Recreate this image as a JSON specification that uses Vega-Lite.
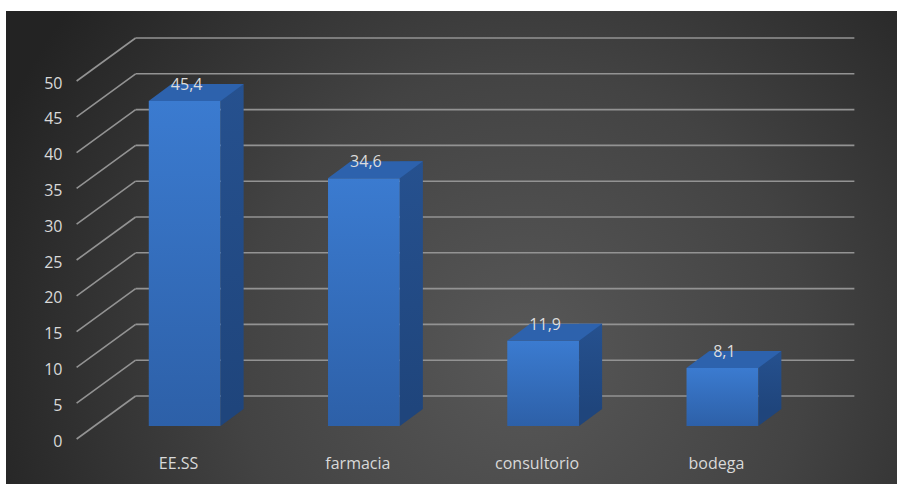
{
  "$schema": "https://vega.github.io/schema/vega-lite/v6.json",
  "width": 891,
  "height": 473,
  "autosize": {"type": "none"},
  "padding": {"left": 6, "top": 11, "right": 0, "bottom": 0},
  "background": "white",
  "datasets": {
    "bars": [
      {"cat": "EE.SS", "v": 45.4},
      {"cat": "farmacia", "v": 34.6},
      {"cat": "consultorio", "v": 11.9},
      {"cat": "bodega", "v": 8.1}
    ],
    "ticks": [
      {"t": 0}, {"t": 5}, {"t": 10}, {"t": 15}, {"t": 20}, {"t": 25},
      {"t": 30}, {"t": 35}, {"t": 40}, {"t": 45}, {"t": 50}
    ]
  },
  "layer": [
    {
      "data": {"name": "ticks"},
      "mark": {"type": "rule", "color": "#939393", "strokeWidth": 1.6, "xOffset": -49, "x2Offset": 132, "yOffset": -30},
      "encoding": {
        "x": {"datum": "EE.SS", "type": "nominal", "axis": {"title": null},
          "scale": {"domain": ["EE.SS", "farmacia", "consultorio", "bodega"], "range": [89, 806]}},
        "x2": {"datum": "bodega"},
        "y": {"field": "t", "type": "quantitative", "axis": {"title": null},
          "scale": {"domain": [0, 50], "range": [415, 57], "nice": false, "zero": true}}
      }
    },
    {
      "data": {"name": "ticks"},
      "mark": {"type": "rule", "color": "#939393", "strokeWidth": 1.6, "xOffset": -108, "x2Offset": -49, "yOffset": 13, "y2Offset": -30},
      "encoding": {
        "x": {"datum": "EE.SS", "type": "nominal", "axis": {"title": null}},
        "x2": {"datum": "EE.SS"},
        "y": {"field": "t", "type": "quantitative", "axis": {"title": null}},
        "y2": {"field": "t"}
      }
    },
    {
      "data": {"name": "bars"},
      "mark": {"type": "bar", "width": 23, "xOffset": 47.5, "yOffset": -17, "y2Offset": -16,
        "color": {"gradient": "linear", "x1": 0, "y1": 0, "x2": 0, "y2": 1,
          "stops": [{"offset": 0, "color": "#26518f"}, {"offset": 1, "color": "#1f457c"}]}},
      "encoding": {
        "x": {"field": "cat", "type": "nominal", "sort": null, "axis": {"title": null}},
        "y": {"field": "v", "type": "quantitative", "axis": {"title": null}}
      }
    },
    {
      "data": {"name": "bars"},
      "mark": {"type": "point", "shape": "M36,-17L59,-17L36,0Z", "size": 4, "filled": true, "opacity": 1, "strokeWidth": 0, "color": "#1f457c"},
      "encoding": {
        "x": {"field": "cat", "type": "nominal", "sort": null, "axis": {"title": null}},
        "y": {"datum": 0, "type": "quantitative", "axis": {"title": null}}
      }
    },
    {
      "data": {"name": "bars"},
      "mark": {"type": "bar",
        "color": {"gradient": "linear", "x1": 0, "y1": 0, "x2": 0, "y2": 1,
          "stops": [{"offset": 0, "color": "#3b7bd0"}, {"offset": 1, "color": "#2d60a8"}]}},
      "encoding": {
        "x": {"field": "cat", "type": "nominal", "sort": null, "axis": {"title": null}},
        "y": {"field": "v", "type": "quantitative", "axis": {"title": null}}
      }
    },
    {
      "data": {"name": "bars"},
      "mark": {"type": "point", "shape": "M-36,0L36,0L59,-17L-13,-17Z", "size": 4, "filled": true, "opacity": 1, "strokeWidth": 0, "color": "#2d62ad"},
      "encoding": {
        "x": {"field": "cat", "type": "nominal", "sort": null, "axis": {"title": null}},
        "y": {"field": "v", "type": "quantitative", "axis": {"title": null}}
      }
    },
    {
      "data": {"name": "bars"},
      "mark": {"type": "text", "font": "Open Sans", "fontSize": 16, "color": "#dcdcdc", "baseline": "alphabetic", "align": "center", "dx": 2, "dy": -11},
      "encoding": {
        "x": {"field": "cat", "type": "nominal", "sort": null, "axis": {"title": null}},
        "y": {"field": "v", "type": "quantitative", "axis": {"title": null}},
        "text": {"field": "v", "type": "quantitative", "format": ".1f"}
      }
    }
  ],
  "resolve": {"scale": {"x": "shared", "y": "shared"}},
  "config": {
    "locale": {
      "number": {"decimal": ",", "thousands": ".", "grouping": [3], "currency": ["", " €"]}
    },
    "view": {
      "stroke": null,
      "fill": {"gradient": "radial", "x1": 0.58, "y1": 0.62, "r1": 0, "x2": 0.58, "y2": 0.62, "r2": 0.64,
        "stops": [{"offset": 0, "color": "#585858"}, {"offset": 0.5, "color": "#434343"}, {"offset": 1, "color": "#232323"}]}
    },
    "scale": {"bandPaddingInner": 0.6, "bandPaddingOuter": 0.3},
    "axisX": {"domain": false, "ticks": false, "grid": false, "labelPadding": 0, "offset": -29, "labelOffset": -6, "labelAngle": 0,
      "labelColor": "#d9d9d9", "labelFontSize": 16, "labelFont": "Open Sans"},
    "axisY": {"domain": false, "ticks": false, "grid": false, "labelPadding": 0, "offset": -56, "labelOffset": 15,
      "labelColor": "#d9d9d9", "labelFontSize": 16, "labelFont": "Open Sans", "tickCount": 10}
  }
}
